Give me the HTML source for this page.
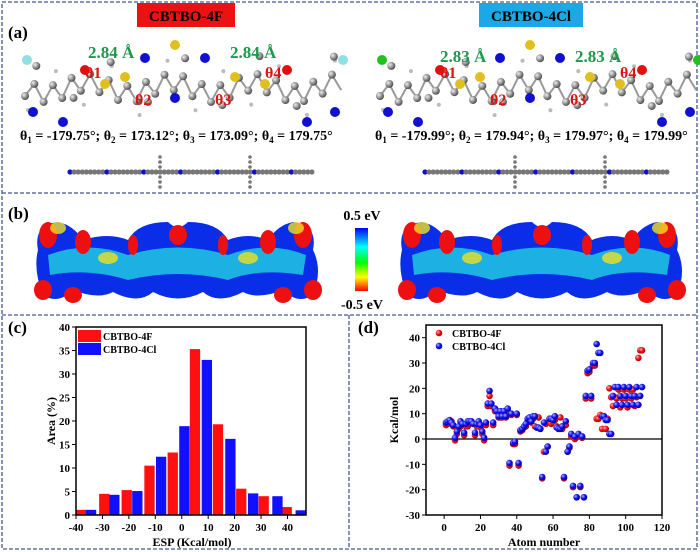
<!DOCTYPE html>
<html><head><meta charset="utf-8"><style>
body{margin:0;background:#fff;}
svg{display:block;font-family:"Liberation Serif",serif;}
</style></head><body>
<svg id="fig" width="700" height="552" viewBox="0 0 700 552">
<defs>
<radialGradient id="gr" cx="35%" cy="35%" r="70%"><stop offset="0" stop-color="#ffb0b0"/><stop offset="0.5" stop-color="#f01010"/><stop offset="1" stop-color="#a00000"/></radialGradient>
<radialGradient id="gb" cx="35%" cy="35%" r="70%"><stop offset="0" stop-color="#b0b0ff"/><stop offset="0.5" stop-color="#1010f0"/><stop offset="1" stop-color="#0000a0"/></radialGradient>
<radialGradient id="gg" cx="35%" cy="35%" r="70%"><stop offset="0" stop-color="#eee"/><stop offset="0.6" stop-color="#888"/><stop offset="1" stop-color="#444"/></radialGradient>
<linearGradient id="cbar" x1="0" y1="0" x2="0" y2="1"><stop offset="0" stop-color="#0000ff"/><stop offset="0.3" stop-color="#00ffff"/><stop offset="0.55" stop-color="#00ff00"/><stop offset="0.78" stop-color="#ffff00"/><stop offset="1" stop-color="#ff0000"/></linearGradient>
</defs>
<g fill="none" stroke="#46598f" stroke-width="1.3" stroke-dasharray="4,2">
<rect x="2" y="2" width="695" height="547"/>
<line x1="2" y1="193" x2="697" y2="193"/>
<line x1="2" y1="315" x2="697" y2="315"/>
<line x1="349" y1="315" x2="349" y2="549"/>
</g>
<g>
<text x="8" y="38" font-size="17" font-weight="bold">(a)</text>
<rect x="137" y="3" width="98" height="24" fill="#ee1111"/>
<text x="186" y="21" font-size="15" font-weight="bold" text-anchor="middle">CBTBO-4F</text>
<rect x="479" y="3" width="104" height="24" fill="#1aa8e6"/>
<text x="531" y="21" font-size="15" font-weight="bold" text-anchor="middle">CBTBO-4Cl</text>
<g id="mol"></g>
<text x="88" y="58" font-size="17" font-weight="bold" fill="#1c9a4a">2.84 Å</text>
<text x="230" y="58" font-size="17" font-weight="bold" fill="#1c9a4a">2.84 Å</text>
<text x="440" y="62" font-size="17" font-weight="bold" fill="#1c9a4a">2.83 Å</text>
<text x="575" y="62" font-size="17" font-weight="bold" fill="#1c9a4a">2.83 Å</text>
<text x="20" y="140" font-size="14" font-weight="bold">θ<tspan font-size="9" dy="3">1</tspan><tspan dy="-3"> = -179.75°; θ</tspan><tspan font-size="9" dy="3">2</tspan><tspan dy="-3"> = 173.12°; θ</tspan><tspan font-size="9" dy="3">3</tspan><tspan dy="-3"> = 173.09°; θ</tspan><tspan font-size="9" dy="3">4</tspan><tspan dy="-3"> = 179.75°</tspan></text>
<text x="375" y="140" font-size="14" font-weight="bold">θ<tspan font-size="9" dy="3">1</tspan><tspan dy="-3"> = -179.99°; θ</tspan><tspan font-size="9" dy="3">2</tspan><tspan dy="-3"> = 179.94°; θ</tspan><tspan font-size="9" dy="3">3</tspan><tspan dy="-3"> = 179.97°; θ</tspan><tspan font-size="9" dy="3">4</tspan><tspan dy="-3"> = 179.99°</tspan></text>
</g>
<g>
<text x="8" y="219" font-size="17" font-weight="bold">(b)</text>
<g id="esp"></g>
<rect x="355" y="228" width="13" height="63" fill="url(#cbar)"/>
<text x="362" y="220" font-size="14" font-weight="bold" text-anchor="middle">0.5 eV</text>
<text x="362" y="309" font-size="14" font-weight="bold" text-anchor="middle">-0.5 eV</text>
</g>
<g id="chartc">
<text x="8" y="333" font-size="17" font-weight="bold">(c)</text>
</g>
<g id="chartd">
<text x="358" y="333" font-size="17" font-weight="bold">(d)</text>
</g>
</svg>
<script>
// ---- chart (c) data ----
const redCenters=[-38,-29.3,-20.8,-12.2,-3.4,5,13.7,22.5,31,39.7];
const redValues=[1.1,4.5,5.3,10.5,13.3,35.3,19.3,5.6,4.0,1.7];
const blueCenters=[-34.3,-25.5,-16.8,-7.8,1,9.5,18.4,27,36.2,45];
const blueValues=[1.1,4.3,5.1,12.4,18.9,33,16.2,4.6,4.0,1.0];
const cXTicks=[-40,-30,-20,-10,0,10,20,30,40];
const cYTicks=[0,5,10,15,20,25,30,35,40];
// ---- chart (d) data ----
const redAtoms=[1,2,3,4,5,6,7,8,9,10,11,12,13,14,15,16,17,18,19,20,21,22,23,24,25,26,27,28,29,30,31,32,33,34,35,36,37,38,39,40,41,42,43,44,45,46,47,48,49,50,51,52,53,54,55,56,57,58,59,60,61,62,63,64,65,66,67,68,69,70,71,72,73,74,75,76,77,78,79,80,81,82,83,84,85,86,87,88,89,90,91,92,93,94,95,96,97,98,99,100,101,102,103,104,105,106,107,108,109];
const redKcal=[5.5,6,6.5,7,5,-0.5,2,4,5,5.5,1.5,5,5,6,6.5,6,1.5,5,6,4.5,2,-0.5,5.5,13,17,13,5.5,11,11,8.5,8.5,8.5,10,8.5,11,-10.5,9.5,-2,-2,9.5,-10.5,3,3.5,4.5,5,7,7.5,6.5,8,5,4.5,8.5,4,-15.5,-5,6,-3,7,6,6.5,7.5,5,4,8.5,4,-15.5,5.5,-5,-3.5,1,-19,0,-23,1,-19,0.5,-23,16,26,26.5,16,29,29,8,8,9.5,4,9,4,8,20,16.5,13,16.5,16,19.5,12.5,16,19.5,16,12.5,19.5,16,19.5,13,16.5,32,35,35];
const blueAtoms=[1,2,3,4,5,6,7,8,9,10,11,12,13,14,15,16,17,18,19,20,21,22,23,24,25,26,27,28,29,30,31,32,33,34,35,36,37,38,39,40,41,42,43,44,45,46,47,48,49,50,51,52,53,54,55,56,57,58,59,60,61,62,63,64,65,66,67,68,69,70,71,72,73,74,75,76,77,78,79,80,81,82,83,84,85,86,87,88,89,90,91,92,93,94,95,96,97,98,99,100,101,102,103,104,105,106,107,108,109];
const blueKcal=[6.5,7,7.5,6.5,5.5,0.5,3,5,7,6,2.5,6,7,7,7,6,2.5,6,7,5.5,3,0.5,6.5,14,19,14,6.5,12,11,9,11,9,11,9,12,-9.5,10,-1.5,-1,10,-9.5,3.5,4,5,6,8,8.5,7,9,9,4.5,4.5,4,-15,6.5,-5,-3,8,8,7.5,9,4.5,4,4,5,-15,7,-5,-3,2,-18.5,1,-23,2,-18.5,1,-23,17,27,27.5,17,30,30,37.5,34,34,9,9,7.5,7.5,2,2,17,20.5,13.5,20.5,17,13.5,20.5,17,13.5,20.5,17,13.5,17,20.5,13.5,17,20.5,13.5];
const dXTicks=[0,20,40,60,80,100,120];
const dYTicks=[-30,-20,-10,0,10,20,30,40];

const NS='http://www.w3.org/2000/svg';
function mk(tag,attrs,parent){const e=document.createElementNS(NS,tag);for(const k in attrs)e.setAttribute(k,attrs[k]);parent.appendChild(e);return e;}

// ---- chart c ----
(function(){
const g=document.getElementById('chartc');
const L=76,R=306,T=327,B=515,xmin=-40,xmax=47,ymax=40;
const sx=v=>L+(v-xmin)/(xmax-xmin)*(R-L), sy=v=>B-v/ymax*(B-T);
const bw=3.9;
function bars(cs,vs,col,nm){for(let i=0;i<cs.length;i++){
 const x0=sx(cs[i]-bw/2),x1=sx(cs[i]+bw/2);
 const r=mk('rect',{x:x0,y:sy(vs[i]),width:x1-x0,height:B-sy(vs[i]),fill:col},g);
 
 }}
bars(redCenters,redValues,'#ff1010','bar-cbtbo-4f');
bars(blueCenters,blueValues,'#1010ff','bar-cbtbo-4cl');
const ax=mk('rect',{x:L,y:T,width:R-L,height:B-T,fill:'none',stroke:'#000','stroke-width':1.5},g);


cXTicks.forEach(v=>{mk('line',{x1:sx(v),x2:sx(v),y1:B,y2:B+4,stroke:'#000'},g);
 const t=mk('text',{x:sx(v),y:B+16,'font-size':11,'font-weight':'bold','text-anchor':'middle'},g);t.textContent=v;
 
 });
cYTicks.forEach(v=>{mk('line',{x1:L-4,x2:L,y1:sy(v),y2:sy(v),stroke:'#000'},g);
 const t=mk('text',{x:L-6,y:sy(v)+4,'font-size':11,'font-weight':'bold','text-anchor':'end'},g);t.textContent=v;
 
 });
let t=mk('text',{x:192,y:546,'font-size':12,'font-weight':'bold','text-anchor':'middle'},g);t.textContent='ESP (Kcal/mol)';


t=mk('text',{x:0,y:0,'font-size':12,'font-weight':'bold','text-anchor':'middle',transform:'translate(55,421) rotate(-90)'},g);t.textContent='Area (%)';


let s=mk('rect',{x:78,y:330,width:23,height:12,fill:'#ff1010'},g);


t=mk('text',{x:103,y:340,'font-size':10,'font-weight':'bold'},g);t.textContent='CBTBO-4F';


s=mk('rect',{x:78,y:343,width:23,height:12,fill:'#1010ff'},g);


t=mk('text',{x:103,y:353,'font-size':10,'font-weight':'bold'},g);t.textContent='CBTBO-4Cl';


})();

// ---- chart d ----
(function(){
const g=document.getElementById('chartd');
const L=426,R=662,T=325,B=515,xmin=-10,xmax=120,ymin=-30,ymax=45;
const sx=v=>L+(v-xmin)/(xmax-xmin)*(R-L), sy=v=>B-(v-ymin)/(ymax-ymin)*(B-T);
const fr=mk('rect',{x:L,y:T,width:R-L,height:B-T,fill:'none',stroke:'#000','stroke-width':1.5},g);


const zl=mk('line',{x1:L,x2:R,y1:sy(0),y2:sy(0),stroke:'#000','stroke-width':1.3},g);


dXTicks.forEach(v=>{mk('line',{x1:sx(v),x2:sx(v),y1:B,y2:B+4,stroke:'#000'},g);
 const t=mk('text',{x:sx(v),y:B+16,'font-size':11,'font-weight':'bold','text-anchor':'middle'},g);t.textContent=v;
 
 });
dYTicks.forEach(v=>{mk('line',{x1:L-4,x2:L,y1:sy(v),y2:sy(v),stroke:'#000'},g);
 const t=mk('text',{x:L-6,y:sy(v)+4,'font-size':11,'font-weight':'bold','text-anchor':'end'},g);t.textContent=v;
 
 });
function pts(xs,ys,grad,nm){for(let i=0;i<xs.length;i++){
 const c=mk('circle',{cx:sx(xs[i]),cy:sy(ys[i]),r:3.3,fill:grad},g);
 
 }}
pts(redAtoms,redKcal,'url(#gr)','point-cbtbo-4f');
pts(blueAtoms,blueKcal,'url(#gb)','point-cbtbo-4cl');
let t=mk('text',{x:544,y:546,'font-size':12,'font-weight':'bold','text-anchor':'middle'},g);t.textContent='Atom number';


t=mk('text',{x:0,y:0,'font-size':12,'font-weight':'bold','text-anchor':'middle',transform:'translate(398,420) rotate(-90)'},g);t.textContent='Kcal/mol';


let c=mk('circle',{cx:439,cy:333,r:3.3,fill:'url(#gr)'},g);


t=mk('text',{x:452,y:337,'font-size':10,'font-weight':'bold'},g);t.textContent='CBTBO-4F';


c=mk('circle',{cx:439,cy:346,r:3.3,fill:'url(#gb)'},g);


t=mk('text',{x:452,y:350,'font-size':10,'font-weight':'bold'},g);t.textContent='CBTBO-4Cl';


})();

// ---- decorative molecules (panel a) ----
(function(){
const g=document.getElementById('mol');
function molecule(ox,hal){
 const grp=mk('g',{},g);
 
 
 for(let i=0;i<34;i++){
  const x=ox+i*9.3, y=88+((i%2)?-8:8)+Math.sin(i*0.7)*6;
  mk('line',{x1:x,y1:y,x2:x+9.3,y2:88+(((i+1)%2)?-8:8)+Math.sin((i+1)*0.7)*6,stroke:'#999','stroke-width':2},grp);
  mk('circle',{cx:x,cy:y,r:4,fill:'url(#gg)'},grp);
  if(i%3==0) mk('circle',{cx:x+3,cy:y+(i%2?-14:14),r:2,fill:'#bbb'},grp);
  if(i%4==1) mk('circle',{cx:x+2,cy:y+(i%8==1?-18:20),r:4,fill:'url(#gg)'},grp);
 }
 [[ox+2,60,hal],[ox+318,60,hal],[ox+8,112,'#1010d0'],[ox+310,112,'#1010d0'],[ox+38,122,'#1010d0'],[ox+282,122,'#1010d0'],[ox+150,45,'#e0c020'],[ox+120,58,'#1010d0'],[ox+180,58,'#1010d0'],[ox+100,77,'#e0c020'],[ox+210,77,'#e0c020'],[ox+60,70,'#e01010'],[ox+262,70,'#e01010'],[ox+150,98,'#1010d0'],[ox+80,84,'#e0c020'],[ox+240,84,'#e0c020']].forEach(a=>mk('circle',{cx:a[0],cy:a[1],r:5,fill:a[2]},grp));
 [[ox+60,78,'θ1'],[ox+110,105,'θ2'],[ox+190,105,'θ3'],[ox+240,78,'θ4']].forEach(a=>{const t=mk('text',{x:a[0],y:a[1],'font-size':16,'font-weight':'bold',fill:'#e01010'},grp);t.textContent=a[2];});
 const side=mk('g',{},g);
 
 
 for(let i=0;i<60;i++) mk('circle',{cx:ox+45+i*4.1,cy:172,r:2.6,fill:i%9==0?'#1010d0':'#777'},side);
 [ox+135,ox+225].forEach(x=>{for(let k=-3;k<=3;k++){if(k) mk('circle',{cx:x,cy:172+k*5,r:1.8,fill:'#777'},side);}});
}
molecule(25,'#8fe0e0');
molecule(380,'#20c020');
})();

// ---- decorative ESP surfaces (panel b) ----
(function(){
const g=document.getElementById('esp');
function surf(ox){
 const s=mk('g',{transform:'translate('+ox+',0)'},g);
 
 
 mk('path',{d:'M10,250 Q5,225 30,222 Q45,225 55,240 Q80,232 100,240 Q110,222 140,222 Q150,232 160,222 Q190,222 200,240 Q220,232 240,240 Q250,225 265,222 Q290,225 285,250 Q295,270 285,295 Q270,305 255,290 Q230,300 215,292 Q190,305 175,292 Q150,305 125,292 Q110,305 85,292 Q70,300 45,290 Q30,305 15,295 Q5,270 10,250Z',fill:'#0a2de8'},s);
 mk('path',{d:'M20,255 Q60,240 100,255 Q150,240 200,255 Q240,240 278,255 L275,275 Q230,268 200,280 Q150,268 100,280 Q60,268 22,275Z',fill:'#21c8e0',opacity:0.85},s);
 [[20,235,9,13],[275,235,9,13],[15,290,9,10],[285,290,9,10],[55,242,8,12],[240,242,8,12],[150,235,9,10],[45,295,9,8],[255,295,9,8],[105,245,5,10],[195,245,5,10]].forEach(e=>mk('ellipse',{cx:e[0],cy:e[1],rx:e[2],ry:e[3],fill:'#ee1010'},s));
 [[30,228,8,6],[268,228,8,6],[80,258,10,6],[220,258,10,6]].forEach(e=>mk('ellipse',{cx:e[0],cy:e[1],rx:e[2],ry:e[3],fill:'#f0e020',opacity:0.8},s));
}
surf(28);surf(392);
})();
</script>
</body></html>
